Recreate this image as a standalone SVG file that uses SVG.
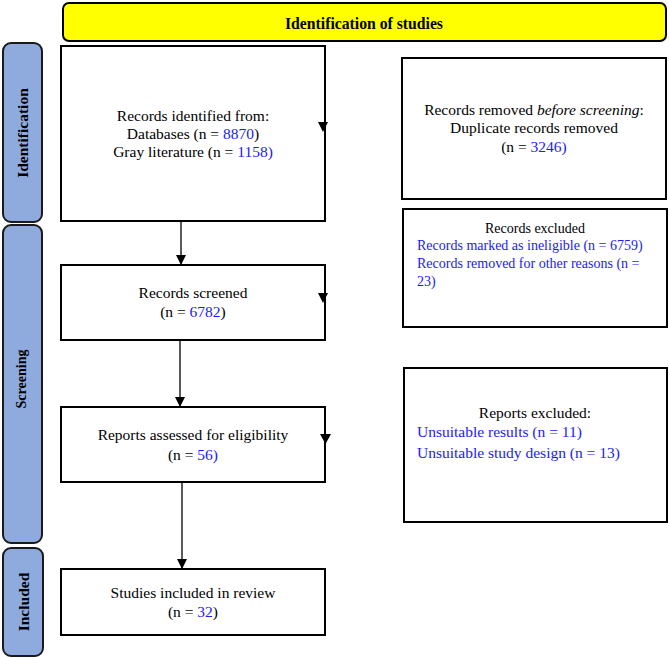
<svg xmlns="http://www.w3.org/2000/svg" width="669" height="658" viewBox="0 0 669 658">
<style>
.box{fill:#fff;stroke:#000;stroke-width:2}
.bar{fill:#8FAADC;stroke:#1a1a1a;stroke-width:2}
.t{font-family:"Liberation Serif","Times New Roman",serif;font-size:15.5px;fill:#000}
.s{font-size:14px}
.c{text-anchor:middle}
.b{font-weight:bold}
.blue{fill:#1a1aff}
.conn line{stroke:#000;stroke-width:1.3}
.head{fill:#000}
</style>
<defs>
<marker id="ah" viewBox="0 0 10 10" refX="10" refY="5" markerWidth="10" markerHeight="10" markerUnits="userSpaceOnUse" orient="auto">
<path d="M0,0 L10,5 L0,10 z" fill="#000"/>
</marker>
</defs>
<rect width="669" height="658" fill="#fff"/>

<g id="banner">
<rect x="63" y="3" width="603" height="38" rx="6" fill="#FFFF00" stroke="#000" stroke-width="2"/>
<text class="t b c" x="364" y="29" style="font-size:17px" textLength="158" lengthAdjust="spacingAndGlyphs">Identification of studies</text>
</g>

<g id="bar-identification">
<rect class="bar" x="3" y="43" width="39" height="179" rx="8"/>
<text class="t b c" transform="translate(28,133) rotate(-90)">Identification</text>
</g>
<g id="bar-screening">
<rect class="bar" x="3" y="225" width="39" height="318" rx="8"/>
<text class="t b c" transform="translate(25.5,379) rotate(-90)" textLength="59" lengthAdjust="spacingAndGlyphs">Screening</text>
</g>
<g id="bar-included">
<rect class="bar" x="3" y="548" width="40" height="108" rx="8"/>
<text class="t b c" transform="translate(29,602) rotate(-90)">Included</text>
</g>

<g id="records-identified">
<rect class="box" x="61" y="46" width="264" height="175"/>
<text class="t c" x="193" y="121">Records identified from:</text>
<text class="t c" x="193" y="139">Databases (n = <tspan class="blue">8870</tspan>)</text>
<text class="t c" x="193" y="157">Gray literature (n = <tspan class="blue">1158)</tspan></text>
</g>

<g id="records-removed">
<rect class="box" x="402" y="58" width="264" height="141"/>
<text class="t c" x="534" y="115">Records removed <tspan font-style="italic">before screening</tspan>:</text>
<text class="t c" x="534" y="133">Duplicate records removed</text>
<text class="t c" x="534" y="152">(n = <tspan class="blue">3246)</tspan></text>
</g>

<g id="records-screened">
<rect class="box" x="61" y="265" width="264" height="75"/>
<text class="t c" x="193" y="298">Records screened</text>
<text class="t c" x="193" y="317">(n = <tspan class="blue">6782</tspan>)</text>
</g>

<g id="records-excluded">
<rect class="box" x="403" y="209" width="264" height="118"/>
<text class="t s c" x="535" y="233">Records excluded</text>
<text class="t s blue" x="417" y="250">Records marked as ineligible (n = 6759)</text>
<text class="t s blue" x="417" y="268">Records removed for other reasons (n =</text>
<text class="t s blue" x="417" y="286">23)</text>
</g>

<g id="reports-assessed">
<rect class="box" x="61" y="407" width="264" height="75"/>
<text class="t c" x="193" y="440">Reports assessed for eligibility</text>
<text class="t c" x="193" y="460">(n = <tspan class="blue">56)</tspan></text>
</g>

<g id="reports-excluded">
<rect class="box" x="404" y="368" width="263" height="154"/>
<text class="t c" x="535" y="418">Reports excluded:</text>
<text class="t blue" x="417" y="437">Unsuitable results (n = 11)</text>
<text class="t blue" x="417" y="458">Unsuitable study design (n = 13)</text>
</g>

<g id="studies-included">
<rect class="box" x="61" y="569" width="264" height="66"/>
<text class="t c" x="193" y="598">Studies included in review</text>
<text class="t c" x="193" y="617">(n = <tspan class="blue">32</tspan>)</text>
</g>

<g id="connectors" class="conn">
<line x1="181" y1="222" x2="181" y2="265" marker-end="url(#ah)"/>
<line x1="180" y1="341" x2="180" y2="407" marker-end="url(#ah)"/>
<line x1="182" y1="483" x2="182" y2="569" marker-end="url(#ah)"/>
<path class="head" d="M318,122 L328,122 L323,132 z"/>
<path class="head" d="M318,293 L328,293 L323,303 z"/>
<path class="head" d="M320,434 L331,434 L325.5,444 z"/>
</g>
</svg>
